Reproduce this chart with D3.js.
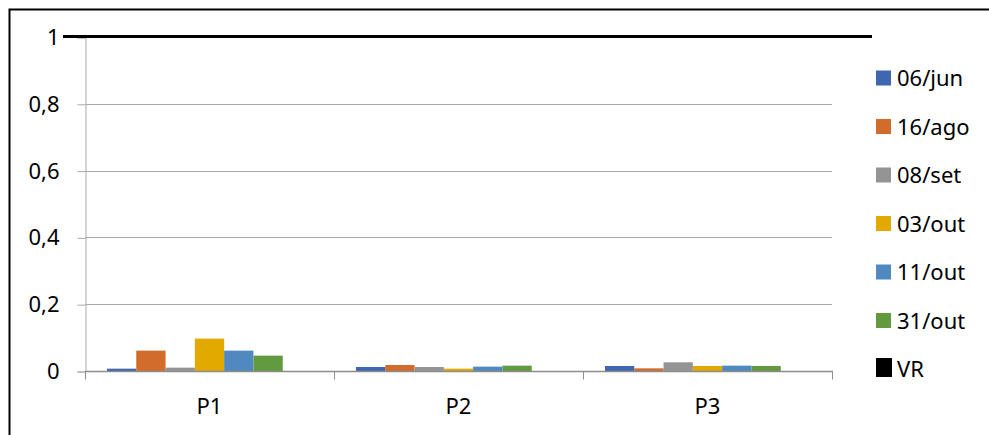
<!DOCTYPE html>
<html>
<head>
<meta charset="utf-8">
<script src="https://cdn.jsdelivr.net/npm/d3@7/dist/d3.min.js"></script>
<style>
  body { margin: 0; background: #fff; }
  text { font-family: "Noto Sans", sans-serif; fill: #000; }
</style>
</head>
<body>
<script>
// chart data
const categories = ['P1', 'P2', 'P3'];
const seriesNames = ['06/jun', '16/ago', '08/set', '03/out', '11/out', '31/out'];
const jun06 = [0.007, 0.012, 0.015];
const ago16 = [0.061, 0.018, 0.008];
const set08 = [0.010, 0.012, 0.026];
const out03 = [0.097, 0.007, 0.015];
const out11 = [0.061, 0.013, 0.016];
const out31 = [0.046, 0.016, 0.015];
const vrName = 'VR';
const vrValues = [1, 1, 1];
const yTicks = [0, 0.2, 0.4, 0.6, 0.8, 1];
const yTickLabels = ['0', '0,2', '0,4', '0,6', '0,8', '1'];

const seriesValues = [jun06, ago16, set08, out03, out11, out31];
const colors = ['#3f67af', '#d26c2b', '#949494', '#e2aa00', '#4f89bf', '#629a3f'];

const W = 989, H = 435;
const plot = { left: 85, right: 832, top: 37, bottom: 371 };
const fontSize = 22;

const svg = d3.select('body').append('svg')
    .attr('width', W)
    .attr('height', H);

// outer frame
svg.append('rect')
    .attr('x', 9.5).attr('y', 9.5)
    .attr('width', W + 20).attr('height', H + 20)
    .attr('fill', 'none')
    .attr('stroke', '#000')
    .attr('stroke-width', 2);

// scales
const x0 = d3.scaleBand()
    .domain(categories)
    .range([plot.left, plot.right]);

// 7 slots per category (VR included), gap width 150%
const slotW = x0.bandwidth() / 8.5;
const x1 = d3.scaleBand()
    .domain(seriesNames.concat([vrName]))
    .range([slotW * 0.75, slotW * 7.75]);

const y = d3.scaleLinear()
    .domain([0, 1])
    .range([plot.bottom, plot.top]);

// gridlines
svg.append('g')
    .selectAll('line')
    .data(yTicks.filter(d => d > 0))
    .enter().append('line')
    .attr('x1', plot.left).attr('x2', plot.right)
    .attr('y1', d => Math.round(y(d)) + 0.5)
    .attr('y2', d => Math.round(y(d)) + 0.5)
    .attr('stroke', '#a9a9a9')
    .attr('stroke-width', 1);

// y axis
const yAxis = svg.append('g')
    .attr('transform', `translate(${plot.left + 0.5},0.5)`)
    .call(d3.axisLeft(y).tickValues(yTicks).tickSize(8).tickPadding(18)
        .tickFormat((d, i) => yTickLabels[i]));
yAxis.select('.domain').attr('stroke', '#a9a9a9');
yAxis.selectAll('.tick line').attr('stroke', '#a9a9a9');
yAxis.selectAll('.tick text')
    .attr('font-size', fontSize)
    .attr('font-family', '"Noto Sans", sans-serif')
    .attr('fill', '#000');

// bars
const groups = svg.append('g')
    .selectAll('g')
    .data(categories)
    .enter().append('g')
    .attr('transform', d => `translate(${x0(d)},0)`);

groups.selectAll('rect')
    .data((c, ci) => seriesNames.map((s, si) => ({ s, si, v: seriesValues[si][ci] })))
    .enter().append('rect')
    .attr('x', d => x1(d.s))
    .attr('width', x1.bandwidth())
    .attr('y', d => y(d.v))
    .attr('height', d => y(0) - y(d.v))
    .attr('fill', d => colors[d.si]);

// x axis
const xAxis = svg.append('g')
    .attr('transform', `translate(0,${plot.bottom + 0.5})`);
xAxis.append('line')
    .attr('x1', plot.left).attr('x2', plot.right + 1)
    .attr('stroke', '#8c8c8c')
    .attr('stroke-width', 1.5);
xAxis.selectAll('line.tk')
    .data(categories.map(c => x0(c)).concat([x0.range()[1]]))
    .enter().append('line')
    .attr('class', 'tk')
    .attr('x1', d => Math.round(d) + 0.5).attr('x2', d => Math.round(d) + 0.5)
    .attr('y1', 0).attr('y2', 8)
    .attr('stroke', '#8c8c8c');
xAxis.selectAll('text')
    .data(categories)
    .enter().append('text')
    .attr('x', d => x0(d) + x0.bandwidth() / 2)
    .attr('y', 42)
    .attr('text-anchor', 'middle')
    .attr('font-size', fontSize)
    .text(d => d);

// VR reference line
svg.append('line')
    .attr('x1', x0.range()[0] - 22)
    .attr('x2', x0.range()[1] + 40)
    .attr('y1', y(vrValues[0]) - 0.5)
    .attr('y2', y(vrValues[vrValues.length - 1]) - 0.5)
    .attr('stroke', '#000')
    .attr('stroke-width', 3);

// legend
const legend = svg.append('g')
    .attr('transform', 'translate(876,78)');
const items = seriesNames.concat([vrName]);
const li = legend.selectAll('g')
    .data(items)
    .enter().append('g')
    .attr('transform', (d, i) => `translate(0,${i * 48.5})`);
li.append('rect')
    .attr('x', 0)
    .attr('y', (d, i) => i < seriesNames.length ? -7.5 : -11)
    .attr('width', (d, i) => i < seriesNames.length ? 15 : 16)
    .attr('height', (d, i) => i < seriesNames.length ? 15 : 19)
    .attr('fill', (d, i) => i < seriesNames.length ? colors[i] : '#000');
li.append('text')
    .attr('x', 21)
    .attr('y', 8)
    .attr('font-size', fontSize)
    .text(d => d);
</script>
</body>
</html>
